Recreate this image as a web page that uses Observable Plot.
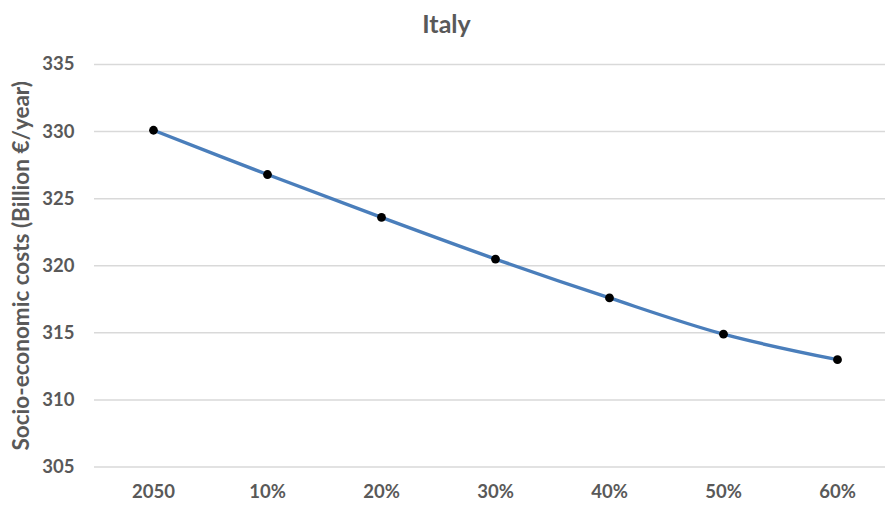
<!DOCTYPE html>
<html><head><meta charset="utf-8">
<script src="https://cdn.jsdelivr.net/npm/d3@7"></script>
<script src="https://cdn.jsdelivr.net/npm/@observablehq/plot@0.6"></script>
<style>
body{margin:0;background:#fff;font-family:Lato,"Open Sans",sans-serif;}
#title{height:40px;line-height:46px;text-align:center;font-weight:bold;font-size:25px;color:#595959;padding-left:8px;box-sizing:border-box;}
</style></head><body>
<div id="title">Italy</div>
<div id="chart"></div>
<script>
const categories = ["2050","10%","20%","30%","40%","50%","60%"];
const costs = [330.1, 326.8, 323.6, 320.5, 317.6, 314.9, 313.0];
const yTicks = [305,310,315,320,325,330,335];
const data = categories.map((c,i)=>({cat:c, v:costs[i]}));
const chart = Plot.plot({
  width:885, height:468,
  marginLeft:94, marginRight:0, marginTop:24, marginBottom:41.5,
  style:{fontFamily:"Lato, 'Open Sans', sans-serif", fontSize:"18.5px", fontWeight:"bold", color:"#595959", overflow:"visible"},
  x:{type:"point", domain:categories, range:[151,838], padding:0, label:null, tickSize:0, tickPadding:18},
  y:{domain:[305,335], ticks:yTicks, label:null, tickSize:0, tickPadding:20},
  marks:[
    Plot.ruleY(yTicks,{stroke:"#d9d9d9", strokeWidth:1.5}),
    Plot.axisY({ticks:yTicks, tickSize:0, tickPadding:20, label:null}),
    Plot.axisX({tickSize:0, tickPadding:18, label:null}),
    Plot.text(["Socio-economic costs (Billion €/year)"],{frameAnchor:"left", textAnchor:"middle", dx:-73, dy:0, rotate:-90, fontSize:22.5, fontWeight:"bold", fill:"#595959"}),
    Plot.line(data,{x:"cat", y:"v", stroke:"#4a7ebb", strokeWidth:3.4, curve:"catmull-rom"}),
    Plot.dot(data,{x:"cat", y:"v", r:4.4, fill:"black"})
  ]
});
document.getElementById("chart").appendChild(chart);
</script>
</body></html>
